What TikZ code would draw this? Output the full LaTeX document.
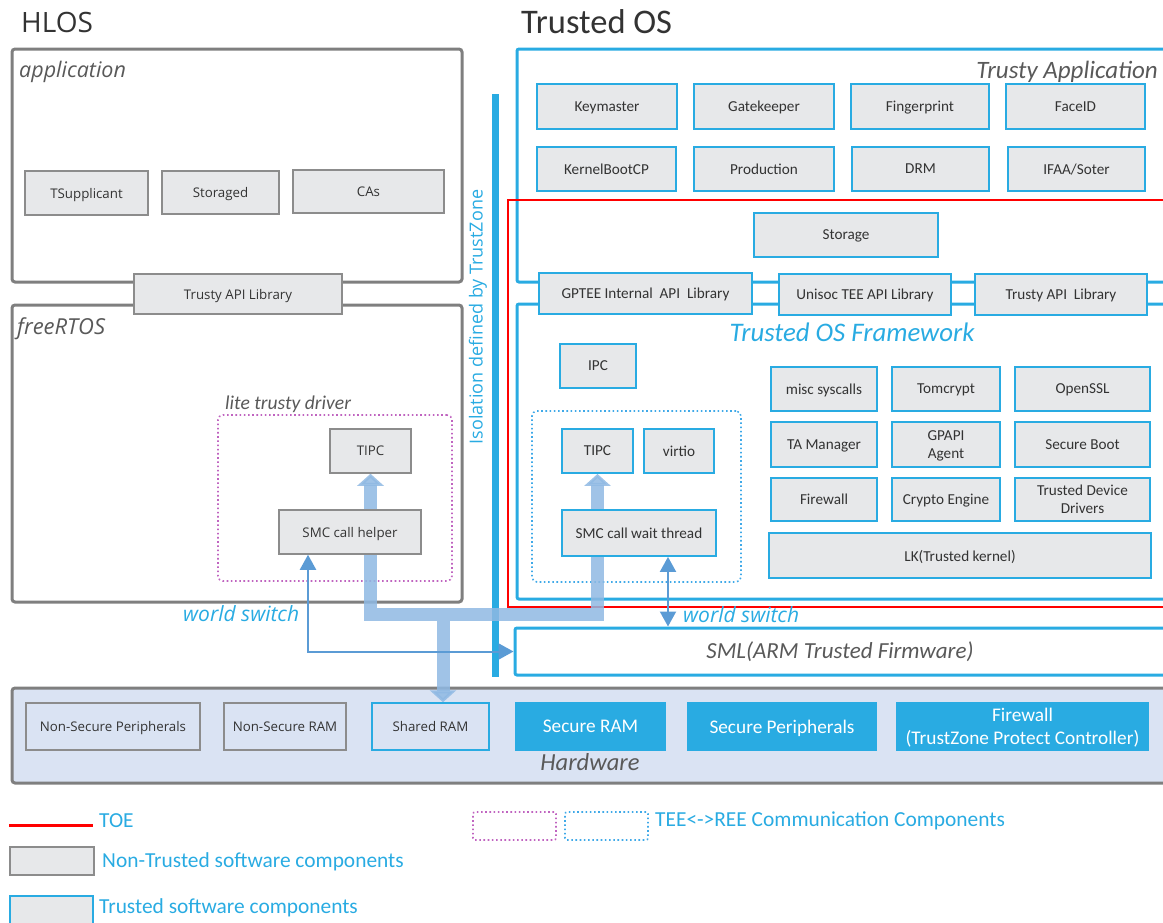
\documentclass[tikz,border=0pt]{standalone}
\usepackage{fontspec}
\setmainfont{Carlito}
\newfontfamily\osf{Open Sans}
\usetikzlibrary{arrows.meta,calc}

\definecolor{tblue}{HTML}{29ABE2}
\definecolor{gfill}{HTML}{E7E8EA}
\definecolor{gline}{HTML}{8C8C8C}
\definecolor{frmc}{HTML}{7F7F7F}
\definecolor{bandc}{HTML}{8FB9E3}
\definecolor{warrow}{HTML}{5B9BD5}
\definecolor{hwbg}{HTML}{DAE3F3}
\definecolor{txt}{HTML}{333333}
\definecolor{ltxt}{HTML}{595959}
\definecolor{mag}{HTML}{C064C0}
\definecolor{dblue}{HTML}{3FA9E8}

\newcommand\fs[2]{\fontsize{#1}{#2}\selectfont}
\newcommand\mybox[7]{\node[#6, minimum width={(#4-#2)*1pt}, minimum height={(#5-#3)*1pt}] (#1) at ({(#2+#4)/2},{(#3+#5)/2}) {#7};}

\tikzset{
  frm/.style={draw=frmc, line width=3pt, rounded corners=3pt, fill=white, inner sep=0pt},
  tfrm/.style={draw=tblue, line width=3pt, rounded corners=2pt, inner sep=0pt},
  hb/.style={draw=gline, fill=gfill, line width=1.5pt, text=txt, font=\osf\fs{13.3}{16}, inner sep=0pt, align=center, text depth=0pt},
  tb/.style={draw=tblue, fill=gfill, line width=1.8pt, text=txt, font=\fs{15.2}{18}, inner sep=0pt, align=center, text depth=0pt},
  hwg/.style={draw=gline, line width=1.5pt, text=txt, font=\osf\fs{13.3}{16}, inner sep=0pt, text depth=0pt},
  hwb/.style={draw=tblue, line width=1.5pt, text=txt, font=\osf\fs{13.3}{16}, inner sep=0pt, text depth=0pt},
  hws/.style={fill=tblue, text=white, font=\fs{19.3}{23}, inner sep=0pt, align=center, text depth=0pt},
  fat/.style={draw=bandc, line width=13pt, opacity=0.85},
  fattip/.style={-{Triangle[width=26pt,length=12pt]}},
  tw/.style={draw=warrow, line width=2pt, {Triangle[width=16pt,length=15pt]}-{Triangle[width=16pt,length=15pt]}},
  magdot/.style={draw=mag, line width=1.6pt, dash pattern=on 1.6pt off 2.6pt, rounded corners=5pt, inner sep=0pt},
  bludot/.style={draw=dblue, line width=1.6pt, dash pattern=on 1.6pt off 2.6pt, rounded corners=5pt, inner sep=0pt},
  leg/.style={anchor=west, text=tblue, font=\fs{21.4}{24}, inner sep=0pt},
}

\begin{document}
\begin{tikzpicture}[x=1pt,y=-1pt]
\useasboundingbox (0,0) rectangle (1163,922);
\clip (0,0) rectangle (1163,922);

% titles
\node[anchor=west, font=\osf\fs{28}{32}, text=txt, inner sep=0pt] (hlos) at (21,22) {HLOS};
\node[anchor=west, font=\fs{34.5}{38}, text=txt, inner sep=0pt] (tos) at (521,22) {Trusted OS};

% hardware
\mybox{hw}{12}{688}{1185}{783}{frm,fill=hwbg}{}
\node[font=\itshape\fs{24.5}{28}, text=ltxt] (hwl) at (590,762) {Hardware};
\mybox{nsp}{26}{703}{200}{750}{hwg}{Non-Secure Peripherals}
\mybox{nsram}{224}{703}{346}{750}{hwg}{Non-Secure RAM}
\mybox{shram}{372}{703}{489}{750}{hwb}{Shared RAM}
\mybox{sram}{515}{702}{666}{751}{hws}{Secure RAM}
\mybox{sper}{687}{702}{877}{751}{hws}{Secure Peripherals}
\mybox{fw}{896}{702}{1149}{751}{hws}{Firewall\\(TrustZone Protect Controller)}

% HLOS frames
\mybox{app}{12}{49}{462}{282}{frm}{}
\mybox{rtos}{12}{305}{462}{602}{frm}{}
\node[anchor=west, font=\osf\itshape\fs{21.5}{24}, text=ltxt, inner sep=0pt] (appl) at (19,72) {application};
\node[anchor=west, font=\osf\itshape\fs{22}{24}, text=ltxt, inner sep=0pt] (rtosl) at (17,329) {freeRTOS};
\mybox{tsup}{25}{171}{148}{215}{hb}{TSupplicant}
\mybox{stgd}{162}{171}{279}{214}{hb}{Storaged}
\mybox{cas}{293}{170}{444}{213}{hb}{CAs}
\mybox{tapil}{134}{274}{342}{314}{hb}{Trusty API Library}
\mybox{ldrv}{218}{415}{452}{581}{magdot}{}
\node[anchor=west, font=\itshape\fs{19.6}{22}, text=ltxt, inner sep=0pt] (ldrvl) at (225,404) {lite trusty driver};
\mybox{tipcl}{330}{429}{411}{473}{hb}{TIPC}
\mybox{smch}{279}{510}{421}{554}{hb}{SMC call helper}

% Trusted OS frames
\mybox{tapp}{517}{49}{1185}{282}{tfrm}{}
\mybox{fwk}{517}{304}{1185}{599}{tfrm}{}
\mybox{toe}{508}{200}{1185}{607}{draw=red, line width=2pt, inner sep=0pt}{}
\mybox{sml}{515}{628}{1185}{675}{tfrm, fill=white}{}
\node[font=\itshape\fs{23}{26}, text=ltxt] (smll) at (840,652) {SML(ARM Trusted Firmware)};
\node[anchor=east, font=\itshape\fs{25}{28}, text=ltxt, inner sep=0pt] (tappl) at (1158,72) {Trusty Application};
\node[font=\itshape\fs{26.8}{30}, text=tblue] (fwkl) at (852,332) {Trusted OS Framework};

\mybox{km}{537}{84}{677}{129}{tb}{Keymaster}
\mybox{gk}{694}{84}{834}{129}{tb}{Gatekeeper}
\mybox{fp}{851}{84}{989}{129}{tb}{Fingerprint}
\mybox{fid}{1006}{84}{1145}{129}{tb}{FaceID}
\mybox{kb}{537}{147}{676}{191}{tb}{KernelBootCP}
\mybox{prod}{694}{147}{834}{191}{tb}{Production}
\mybox{drm}{852}{147}{989}{191}{tb}{DRM}
\mybox{ifaa}{1008}{147}{1145}{191}{tb}{IFAA/Soter}
\mybox{stor}{754}{213}{938}{257}{tb}{Storage}
\mybox{gptee}{539}{273}{752}{314}{tb}{GPTEE Internal\ \ API\ \ Library}
\mybox{unisoc}{779}{274}{951}{315}{tb}{Unisoc TEE API Library}
\mybox{tapir}{975}{274}{1147}{315}{tb}{Trusty API\ \ Library}

\mybox{ipc}{560}{344}{636}{388}{tb}{IPC}
\mybox{tdrv}{532}{411}{741}{582}{bludot}{}
\mybox{tipcr}{562}{429}{633}{473}{tb}{TIPC}
\mybox{virtio}{644}{429}{714}{473}{tb}{virtio}
\mybox{smcw}{562}{510}{716}{556}{tb}{SMC call wait thread}

\mybox{misc}{771}{367}{877}{411}{tb}{misc syscalls}
\mybox{tom}{892}{367}{1000}{411}{tb}{Tomcrypt}
\mybox{ossl}{1015}{367}{1150}{411}{tb}{OpenSSL}
\mybox{tam}{771}{422}{877}{467}{tb}{TA Manager}
\mybox{gpapi}{892}{422}{1000}{467}{tb}{GPAPI\\Agent}
\mybox{sboot}{1015}{422}{1150}{467}{tb}{Secure Boot}
\mybox{fwl}{771}{478}{877}{521}{tb}{Firewall}
\mybox{ce}{892}{478}{1000}{521}{tb}{Crypto Engine}
\mybox{tdd}{1015}{478}{1150}{521}{tb}{Trusted Device\\Drivers}
\mybox{lk}{769}{533}{1151}{578}{tb}{LK(Trusted kernel)}

% isolation bar
\draw[tblue, line width=7pt] (495,94) -- (495,677);
\node[rotate=90, font=\osf\fs{18}{21}, text=tblue] (iso) at (478,317) {Isolation defined by TrustZone};

% fat arrows
\coordinate (bj) at (443,614);
\draw[fat, fattip] (smch.north -| tipcl.south) -- (tipcl.south);
\draw[fat, fattip] (smcw.north -| tipcr.south) -- (tipcr.south);
\draw[fat, line join=miter] (smch.south -| tipcl.south) -- (tipcl.south |- bj) -- (tipcr.south |- bj) -- (smcw.south -| tipcr.south);
\draw[fat, fattip] ($(bj)+(0,6.5)$) -- (shram.north -| bj);

% world switch arrows
\coordinate (ws1) at ($(smch.south)+(-42,0)$);
\coordinate (ws2) at ($(smcw.south)+(29,0)$);
\draw[tw] (ws1) |- (sml.west);
\draw[tw] (ws2) -- (ws2 |- sml.north);
\node[anchor=west, font=\osf\itshape\fs{21}{24}, text=tblue, inner sep=0pt] (wsl1) at (183,614) {world switch};
\node[anchor=west, font=\osf\itshape\fs{21}{24}, text=tblue, inner sep=0pt] (wsl2) at (683,615) {world switch};

% legend
\coordinate (lr1) at (9,825);
\coordinate (lr2) at (93,825);
\draw[red, line width=3pt] (lr1) -- (lr2);
\node[leg] (ltoe) at (99,821) {TOE};
\mybox{lg1}{10}{847}{94}{875}{hb}{}
\node[leg] (lnt) at (102,862) {Non-Trusted software components};
\mybox{lg2}{10}{896}{93}{930}{tb}{}
\node[leg] (lt) at (99,908) {Trusted software components};
\mybox{lgm}{473}{812}{556}{840}{magdot, rounded corners=2pt}{}
\mybox{lgb}{565}{812}{648}{840}{bludot, rounded corners=2pt}{}
\node[leg] (lcc) at (655,821) {TEE<->REE Communication Components};
\end{tikzpicture}
\end{document}
